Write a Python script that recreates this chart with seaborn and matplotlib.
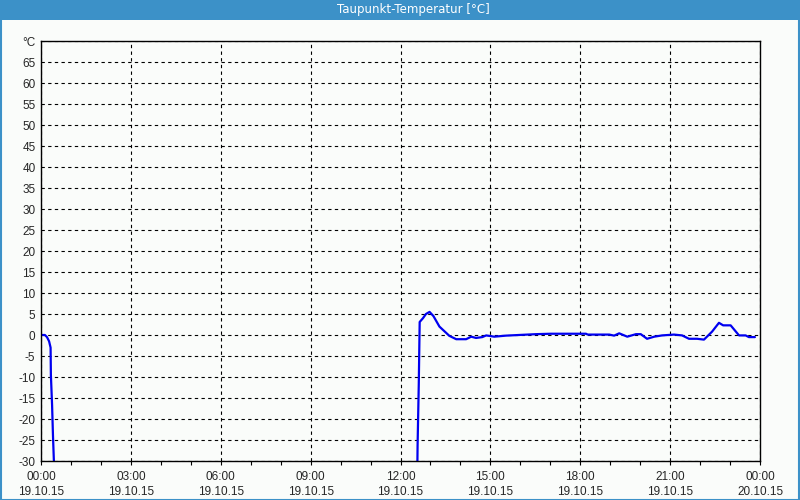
import numpy as np
import pandas as pd
import matplotlib
matplotlib.use("Agg")
import matplotlib.pyplot as plt
import seaborn as sns

# ---- data (hours since 19.10.15 00:00, dew point °C) ----
seg1_hours = [0.0, 0.13, 0.2, 0.27, 0.32, 0.33, 0.37, 0.40, 0.43, 0.45]
seg1_values = [0.0, 0.0, -0.5, -1.5, -3.0, -9.5, -16.7, -24.0, -30.0, -40.0]

seg2_hours = [12.55, 12.57, 12.61, 12.64, 12.75, 12.85, 12.97, 13.1, 13.3, 13.45,
              13.63, 13.86, 14.19, 14.36, 14.52, 14.73, 14.86, 15.13, 15.52, 16.52,
              17.02, 17.5, 18.19, 18.25, 18.97, 19.13, 19.3, 19.57, 19.86, 20.02,
              20.23, 20.47, 20.73, 21.13, 21.4, 21.63, 21.9, 22.13, 22.4, 22.63,
              22.77, 23.02, 23.3, 23.52, 23.63, 23.83]
seg2_values = [-40.0, -26.4, -11.7, 3.1, 4.0, 5.0, 5.5, 4.5, 2.0, 1.0,
               -0.2, -1.0, -1.0, -0.4, -0.7, -0.5, -0.1, -0.4, -0.15, 0.2,
               0.3, 0.3, 0.3, 0.1, 0.1, -0.15, 0.4, -0.4, 0.2, 0.2,
               -0.9, -0.4, -0.1, 0.1, -0.1, -0.9, -0.9, -1.1, 0.8, 2.9,
               2.3, 2.3, -0.1, -0.1, -0.5, -0.5]

x_tick_hours = [0, 3, 6, 9, 12, 15, 18, 21, 24]
x_tick_labels = ["00:00\n19.10.15", "03:00\n19.10.15", "06:00\n19.10.15",
                 "09:00\n19.10.15", "12:00\n19.10.15", "15:00\n19.10.15",
                 "18:00\n19.10.15", "21:00\n19.10.15", "00:00\n20.10.15"]
y_ticks = list(range(-30, 71, 5))
y_tick_labels = [str(v) for v in y_ticks[:-1]] + ["°C"]
title = "Taupunkt-Temperatur [°C]"

df = pd.DataFrame({
    "hour": seg1_hours + seg2_hours,
    "value": seg1_values + seg2_values,
    "seg": [1] * len(seg1_hours) + [2] * len(seg2_hours),
})

sns.set_style("white")
plt.rcParams["font.family"] = ["Liberation Sans", "DejaVu Sans"]

bg = "#fafcfa"
W, H = 800, 500
fig = plt.figure(figsize=(8, 5), dpi=100, facecolor=bg)
ax = fig.add_axes([41 / W, 1 - 461 / H, (760 - 41) / W, (461 - 41) / H], facecolor=bg)

sns.lineplot(data=df, x="hour", y="value", units="seg", estimator=None,
             color="#0000f0", linewidth=1.6, ax=ax, sort=False)

ax.set_xlim(0, 24)
ax.set_ylim(-30, 70)
ax.set_xticks(x_tick_hours)
ax.set_xticklabels(x_tick_labels, fontsize=8.5, linespacing=1.4)
ax.set_xticks(np.arange(0, 25, 1), minor=True)
ax.set_yticks(y_ticks)
ax.set_yticklabels(y_tick_labels, fontsize=8.5)
ax.set_xlabel("")
ax.set_ylabel("")
ax.tick_params(axis="x", which="both", direction="out", length=3, width=0.8,
               color="black", pad=4, bottom=True)
ax.tick_params(axis="y", which="both", length=0, pad=4, left=True)
ax.grid(True, which="major", color="black", linestyle=(0, (3, 3)), linewidth=0.8)
for s in ax.spines.values():
    s.set_color("black")
    s.set_linewidth(1.0)
    s.set_visible(True)

# title bar and frame
blue = "#3c91c8"
fig.patches.append(plt.Rectangle((0, 1 - 20 / H), 1, 20 / H, transform=fig.transFigure,
                                 facecolor=blue, edgecolor="none", zorder=0))
fig.patches.append(plt.Rectangle((0.5 / W, 0.5 / H), 1 - 1.5 / W, 1 - 1 / H,
                                 transform=fig.transFigure, facecolor="none",
                                 edgecolor=blue, linewidth=1.5, zorder=0))
fig.text(413 / W, 1 - 10 / H, title, color="white", fontsize=8.5,
         ha="center", va="center", family="DejaVu Sans")

fig.savefig("out.png", dpi=100, facecolor=bg)
